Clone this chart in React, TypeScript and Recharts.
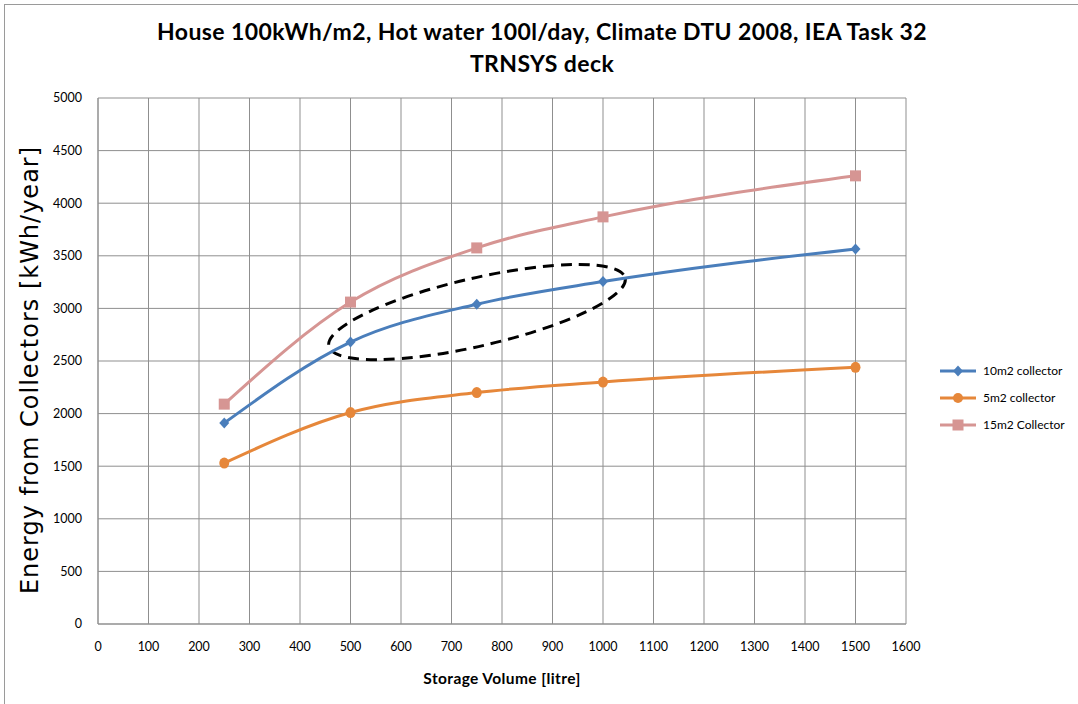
import React from 'react';
import { LineChart, Line, XAxis, YAxis, CartesianGrid, ReferenceArea } from 'recharts';

// storage volumes [litre]
const volumes = [250, 500, 750, 1000, 1500];
// energy from collectors [kWh/year]
const coll10 = [1910, 2680, 3040, 3255, 3565];
const coll5 = [1530, 2010, 2200, 2300, 2440];
const coll15 = [2090, 3060, 3575, 3870, 4260];

const xTicks = [0, 100, 200, 300, 400, 500, 600, 700, 800, 900, 1000, 1100, 1200, 1300, 1400, 1500, 1600];
const yTicks = [0, 500, 1000, 1500, 2000, 2500, 3000, 3500, 4000, 4500, 5000];

// the dashed ring drawn round the 500-1000 litre part of the 10m2 curve
const ringX = [457, 1044];
const ringY = [2510, 3420];

const BLUE = '#4A7EBB';
const ORANGE = '#E6873A';
const PINK = '#D69593';

const data = volumes.map((v, i) => ({ v, c10: coll10[i], c5: coll5[i], c15: coll15[i] }));

const Diamond = (p: any) => (
  <path key={p.index} d={`M${p.cx},${p.cy - 5.5} L${p.cx + 5},${p.cy} L${p.cx},${p.cy + 5.5} L${p.cx - 5},${p.cy} Z`} fill={BLUE} />
);
const Dot = (p: any) => <ellipse key={p.index} cx={p.cx} cy={p.cy} rx={5} ry={5.5} fill={ORANGE} />;
const Square = (p: any) => <rect key={p.index} x={p.cx - 5.5} y={p.cy - 5.5} width={11} height={11} fill={PINK} />;

const Ring = (p: any) => {
  const cx = p.x + p.width / 2;
  const cy = p.y + p.height / 2;
  return (
    <ellipse
      cx={cx}
      cy={cy}
      rx={p.width * 0.513}
      ry={p.height * 0.355}
      transform={`rotate(-13 ${cx} ${cy})`}
      fill="none"
      stroke="#000"
      strokeWidth={3}
      strokeDasharray="11 7"
    />
  );
};

const legendItems = [
  { name: '10m2 collector', color: BLUE, kind: 'diamond' },
  { name: '5m2 collector', color: ORANGE, kind: 'circle' },
  { name: '15m2 Collector', color: PINK, kind: 'square' },
];

export default function App() {
  const tick = { fill: '#000', fontSize: 12.5, fontFamily: 'Lato' };
  return (
    <div style={{ position: 'absolute', left: 0, top: 0, width: 1078, height: 704, background: '#fff', overflow: 'hidden' }}>
      <div style={{ position: 'absolute', left: 4, top: 4, width: 1080, height: 710, border: '1px solid #9a9a9a' }} />
      <div style={{ position: 'absolute', left: 0, top: 15, width: 1084, textAlign: 'center', fontFamily: 'Lato', fontWeight: 'bold', fontSize: 23, letterSpacing: 0.4, lineHeight: '32px', color: '#000' }}>
        House 100kWh/m2, Hot water 100l/day, Climate DTU 2008, IEA Task 32
        <br />
        TRNSYS deck
      </div>
      <div style={{ position: 'absolute', left: 30, top: 370, transform: 'translate(-50%, -50%) rotate(-90deg)', whiteSpace: 'nowrap', fontFamily: 'DejaVu Sans', fontSize: 24, letterSpacing: 1, color: '#000' }}>
        Energy from Collectors [kWh/year]
      </div>
      <div style={{ position: 'absolute', left: 0, top: 0 }}>
        <LineChart width={1078} height={704} data={data} margin={{ top: 98, right: 172, bottom: 50, left: 38 }}>
          <CartesianGrid stroke="#8f8f8f" strokeWidth={1} horizontalValues={yTicks} verticalValues={xTicks} />
          <XAxis
            dataKey="v"
            type="number"
            domain={[0, 1600]}
            ticks={xTicks}
            interval={0}
            axisLine={{ stroke: '#8f8f8f' }}
            tickLine={false}
            tick={tick}
            tickMargin={12}
            height={30}
            label={{ value: 'Storage Volume [litre]', position: 'insideBottom', offset: -30, fill: '#000', fontSize: 15.5, letterSpacing: 0.4, fontWeight: 'bold', fontFamily: 'Lato' }}
          />
          <YAxis
            type="number"
            domain={[0, 5000]}
            ticks={yTicks}
            interval={0}
            axisLine={{ stroke: '#8f8f8f' }}
            tickLine={false}
            tick={tick}
            tickMargin={10}
            width={60}
          />
          <Line type="monotone" dataKey="c10" stroke={BLUE} strokeWidth={3} dot={Diamond} activeDot={false} isAnimationActive={false} />
          <Line type="monotone" dataKey="c5" stroke={ORANGE} strokeWidth={3} dot={Dot} activeDot={false} isAnimationActive={false} />
          <Line type="monotone" dataKey="c15" stroke={PINK} strokeWidth={3} dot={Square} activeDot={false} isAnimationActive={false} />
          <ReferenceArea x1={ringX[0]} x2={ringX[1]} y1={ringY[0]} y2={ringY[1]} ifOverflow="visible" shape={Ring} />
        </LineChart>
      </div>
      <div style={{ position: 'absolute', left: 940, top: 357 }}>
        {legendItems.map((it) => (
          <div key={it.name} style={{ display: 'flex', alignItems: 'center', height: 27, fontFamily: 'Lato', fontSize: 12, color: '#000' }}>
            <svg width={40} height={14}>
              <line x1={0} y1={7} x2={36} y2={7} stroke={it.color} strokeWidth={3} />
              {it.kind === 'diamond' && <path d="M18,1.5 L23,7 L18,12.5 L13,7 Z" fill={it.color} />}
              {it.kind === 'circle' && <circle cx={18} cy={7} r={5} fill={it.color} />}
              {it.kind === 'square' && <rect x={12.5} y={1.5} width={11} height={11} fill={it.color} />}
            </svg>
            <span style={{ marginLeft: 3 }}>{it.name}</span>
          </div>
        ))}
      </div>
    </div>
  );
}
